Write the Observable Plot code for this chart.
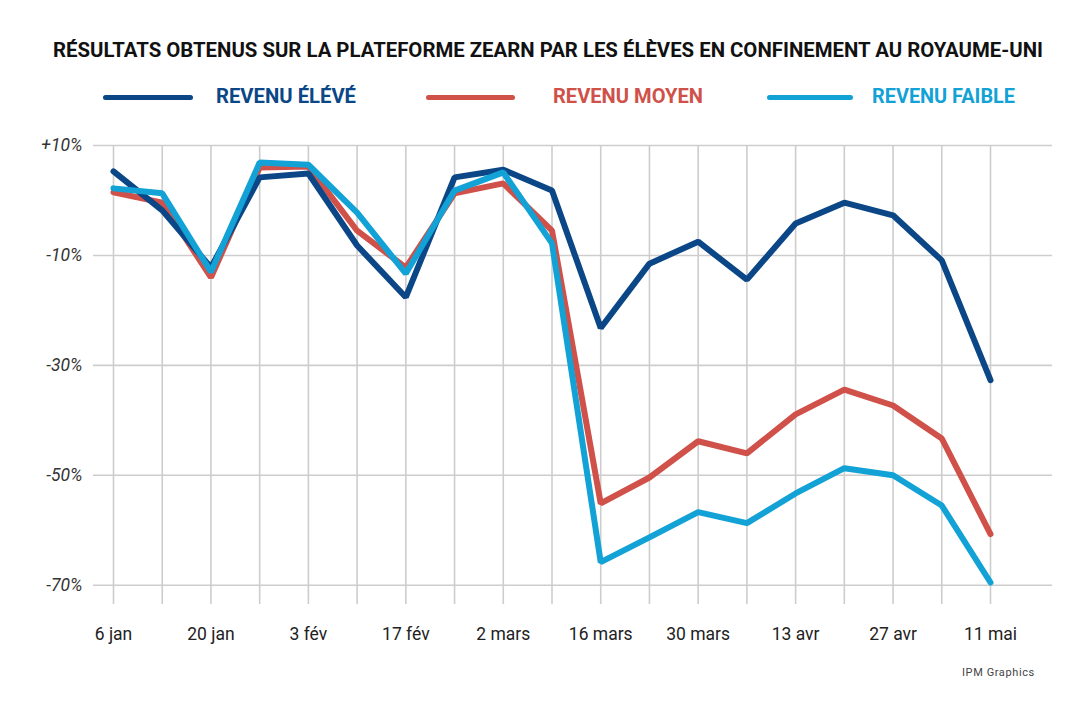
<!DOCTYPE html>
<html>
<head>
<meta charset="utf-8">
<script src="https://cdn.jsdelivr.net/npm/d3@7"></script>
<script src="https://cdn.jsdelivr.net/npm/@observablehq/plot@0.6"></script>
<style>
  body { margin:0; background:#fff; width:1073px; height:702px; position:relative; overflow:hidden; font-family:Roboto, "Noto Sans", sans-serif; }
  .fit { position:absolute; white-space:nowrap; transform-origin:0 50%; font-weight:700; font-size:20px; line-height:20px; }
  .swatch { position:absolute; height:5px; border-radius:3px; }
  #chart { position:absolute; left:0; top:120px; }
  #chart g[aria-label="y-axis tick label"] text { font-style:italic; }
  #credit { position:absolute; left:962px; top:666px; font-size:11px; line-height:14px; letter-spacing:0.6px; color:#444; }
</style>
</head>
<body>
<div id="title" class="fit" style="left:53px;top:40px;color:#111" data-w="990">RÉSULTATS OBTENUS SUR LA PLATEFORME ZEARN PAR LES ÉLÈVES EN CONFINEMENT AU ROYAUME-UNI</div>
<div id="legend"></div>
<div id="chart"></div>
<div id="credit">IPM Graphics</div>
<script>
// ---- data ----
const weeks = ["2020-01-06","2020-01-13","2020-01-20","2020-01-27","2020-02-03","2020-02-10","2020-02-17","2020-02-24","2020-03-02","2020-03-09","2020-03-16","2020-03-23","2020-03-30","2020-04-06","2020-04-13","2020-04-20","2020-04-27","2020-05-04","2020-05-11"];
const tickWeeks = ["2020-01-06","2020-01-20","2020-02-03","2020-02-17","2020-03-02","2020-03-16","2020-03-30","2020-04-13","2020-04-27","2020-05-11"];
const tickLabels = ["6 jan","20 jan","3 fév","17 fév","2 mars","16 mars","30 mars","13 avr","27 avr","11 mai"];
const yTicks = [10, -10, -30, -50, -70];
const seriesNames = ["REVENU ÉLÉVÉ","REVENU MOYEN","REVENU FAIBLE"];
const seriesColors = ["#0b4787","#cf5149","#12a2d6"];
const revenuEleve  = [5.3, -1.8, -12.2, 4.2, 4.9, -8.2, -17.6, 4.2, 5.6, 1.8, -23.2, -11.5, -7.5, -14.4, -4.2, -0.4, -2.7, -10.9, -32.7];
const revenuMoyen  = [1.5, -0.4, -14.0, 6.0, 6.2, -5.5, -12.2, 1.3, 3.1, -5.5, -55.1, -50.4, -43.8, -46.0, -38.9, -34.4, -37.3, -43.3, -60.7];
const revenuFaible = [2.2, 1.3, -13.0, 6.9, 6.5, -2.2, -13.3, 1.8, 5.1, -7.8, -65.8, -61.3, -56.7, -58.7, -53.3, -48.7, -50.0, -55.5, -69.5];

// ---- build ----
const dates = weeks.map(d => new Date(d + "T00:00:00Z"));
const tickDates = tickWeeks.map(d => new Date(d + "T00:00:00Z"));
const labelMap = new Map(tickDates.map((d, i) => [+d, tickLabels[i]]));
const values = [revenuEleve, revenuMoyen, revenuFaible];
const rows = s => dates.map((d, i) => ({date: d, value: values[s][i], serie: seriesNames[s]}));

// legend
const legend = document.getElementById("legend");
const legendPos = [
  {line:[103, 90], text:[216, 140]},
  {line:[426, 89], text:[553, 150]},
  {line:[767, 86], text:[872, 143]}
];
seriesNames.forEach((name, i) => {
  const sw = document.createElement("div");
  sw.className = "swatch";
  sw.style.cssText = `left:${legendPos[i].line[0]}px;width:${legendPos[i].line[1]}px;top:95px;background:${seriesColors[i]}`;
  legend.appendChild(sw);
  const t = document.createElement("div");
  t.className = "fit";
  t.textContent = name;
  t.dataset.w = legendPos[i].text[1];
  t.style.cssText = `left:${legendPos[i].text[0]}px;top:86px;color:${seriesColors[i]}`;
  legend.appendChild(t);
});
document.querySelectorAll(".fit").forEach(el => {
  const w = el.getBoundingClientRect().width;
  el.style.transform = `scaleX(${(+el.dataset.w) / w})`;
});

const plot = Plot.plot({
  width: 1073,
  height: 582,
  marginTop: 25,
  marginBottom: 98,
  marginLeft: 93,
  marginRight: 21,
  style: {fontFamily: "Roboto, 'Noto Sans', sans-serif", background: "transparent"},
  x: {type: "utc", domain: [dates[0], dates[dates.length - 1]], insetLeft: 20, insetRight: 62},
  y: {domain: [-73.5, 10]},
  marks: [
    Plot.ruleX(dates, {stroke: "#cdcdcd", strokeWidth: 1.6}),
    Plot.ruleY(yTicks, {stroke: "#cdcdcd", strokeWidth: 1.6}),
    Plot.axisY(yTicks, {tickSize: 0, tickPadding: 11, fontSize: 17.5, fill: "#333", label: null,
      tickFormat: d => (d > 0 ? "+" : "") + d + "%"}),
    Plot.axisX(tickDates, {tickSize: 0, tickPadding: 23, fontSize: 17.5, fill: "#222", label: null,
      tickFormat: d => labelMap.get(+d)}),
    Plot.line(rows(1), {x: "date", y: "value", stroke: seriesColors[1], strokeWidth: 6, strokeLinejoin: "miter", strokeLinecap: "round"}),
    Plot.line(rows(0), {x: "date", y: "value", stroke: seriesColors[0], strokeWidth: 6, strokeLinejoin: "miter", strokeLinecap: "round"}),
    Plot.line(rows(2), {x: "date", y: "value", stroke: seriesColors[2], strokeWidth: 6, strokeLinejoin: "miter", strokeLinecap: "round"})
  ]
});
document.getElementById("chart").appendChild(plot);
</script>
</body>
</html>
